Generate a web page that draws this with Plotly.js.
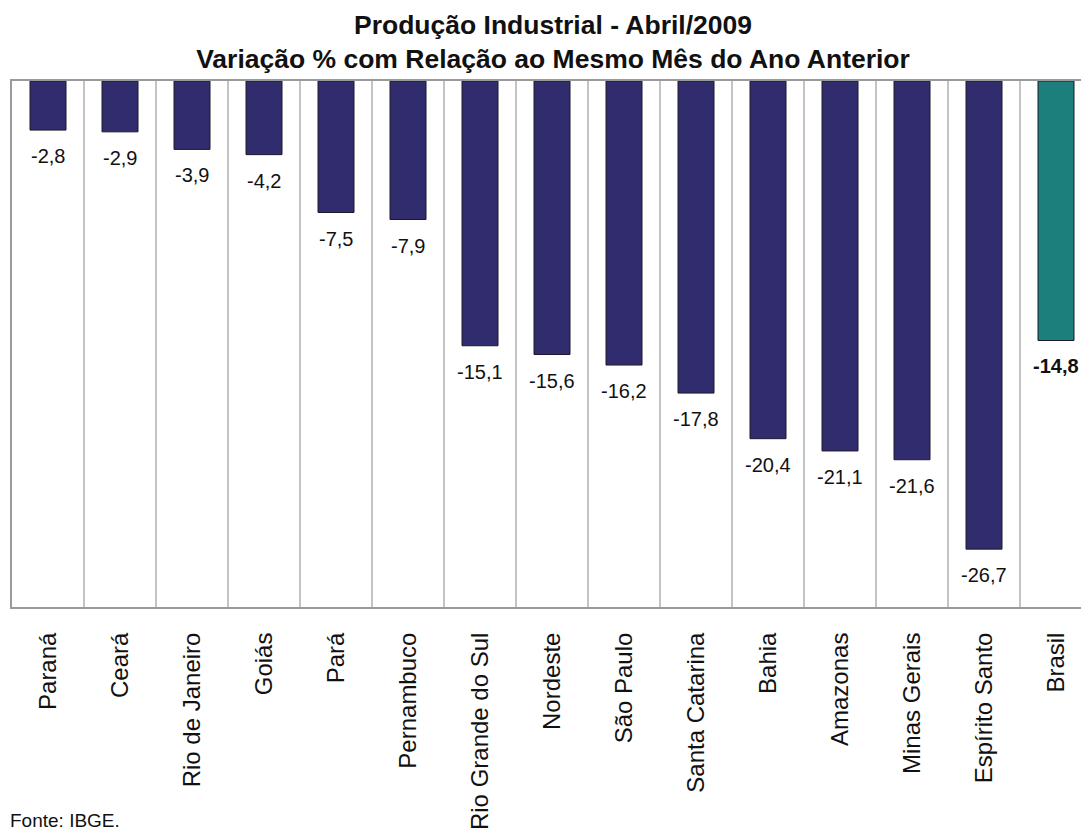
<!DOCTYPE html>
<html>
<head>
<meta charset="utf-8">
<script src="https://cdn.plot.ly/plotly-3.0.1.min.js"></script>
<style>
html,body{margin:0;padding:0;overflow:hidden;background:#fff;width:1081px;height:830px;}
#chart{width:1095px;height:830px;}
</style>
</head>
<body>
<div id="chart"></div>
<script>
const categories = ["Paraná","Ceará","Rio de Janeiro","Goiás","Pará","Pernambuco","Rio Grande do Sul","Nordeste","São Paulo","Santa Catarina","Bahia","Amazonas","Minas Gerais","Espírito Santo","Brasil"];
const values = [-2.8,-2.9,-3.9,-4.2,-7.5,-7.9,-15.1,-15.6,-16.2,-17.8,-20.4,-21.1,-21.6,-26.7,-14.8];
const highlight = "Brasil";
const titleLines = ["Produção Industrial - Abril/2009","Variação % com Relação ao Mesmo Mês do Ano Anterior"];
const sourceText = "Fonte: IBGE.";

const navy = "#312c6e", teal = "#1d7f7b";
const colors = categories.map(c => c === highlight ? teal : navy);
const fmt = v => v.toFixed(1).replace(".", ",");

const trace = {
  type: "bar",
  x: categories,
  y: values,
  marker: {color: colors, line: {color: "#1a1a2a", width: 1}},
  hoverinfo: "none"
};

const annotations = categories.map((c, i) => ({
  x: c, y: values[i], xref: "x", yref: "y",
  text: c === highlight ? "<b>" + fmt(values[i]) + "</b>" : fmt(values[i]),
  showarrow: false, yanchor: "top", yshift: -13,
  font: {family: "Liberation Sans, Arial, sans-serif", size: 20, color: "#111"}
}));
annotations.push({
  xref: "paper", yref: "paper", x: -0.004, y: -0.405, xanchor: "left", yanchor: "middle",
  text: sourceText, showarrow: false,
  font: {family: "Liberation Sans, Arial, sans-serif", size: 19, color: "#111"}
});

const layout = {
  width: 1095, height: 830,
  margin: {l: 12, r: 3, t: 81, b: 223, pad: 0},
  paper_bgcolor: "#fff", plot_bgcolor: "#fff",
  showlegend: false,
  bargap: 0.5,
  title: {
    text: "<b>" + titleLines[0] + "<br>" + titleLines[1] + "</b>",
    font: {family: "Liberation Sans, Arial, sans-serif", size: 26.5, color: "#111"},
    x: 553/1095, xanchor: "center", xref: "container",
    y: 1 - 34/830, yanchor: "middle", yref: "container"
  },
  xaxis: {
    type: "category",
    tickson: "boundaries",
    showgrid: true, gridcolor: "#c4c4c4", gridwidth: 1.5,
    showline: true, linecolor: "#9a9a9a", linewidth: 2, mirror: true,
    ticks: "", tickangle: -90, ticklabelstandoff: 14,
    tickfont: {family: "Liberation Sans, Arial, sans-serif", size: 24, color: "#111"},
    fixedrange: true
  },
  yaxis: {
    range: [-30, 0],
    showticklabels: false, showgrid: false, zeroline: false,
    showline: true, linecolor: "#9a9a9a", linewidth: 2, mirror: true,
    ticks: "", fixedrange: true
  },
  annotations: annotations
};

Plotly.newPlot("chart", [trace], layout, {displayModeBar: false, staticPlot: true});
</script>
</body>
</html>
